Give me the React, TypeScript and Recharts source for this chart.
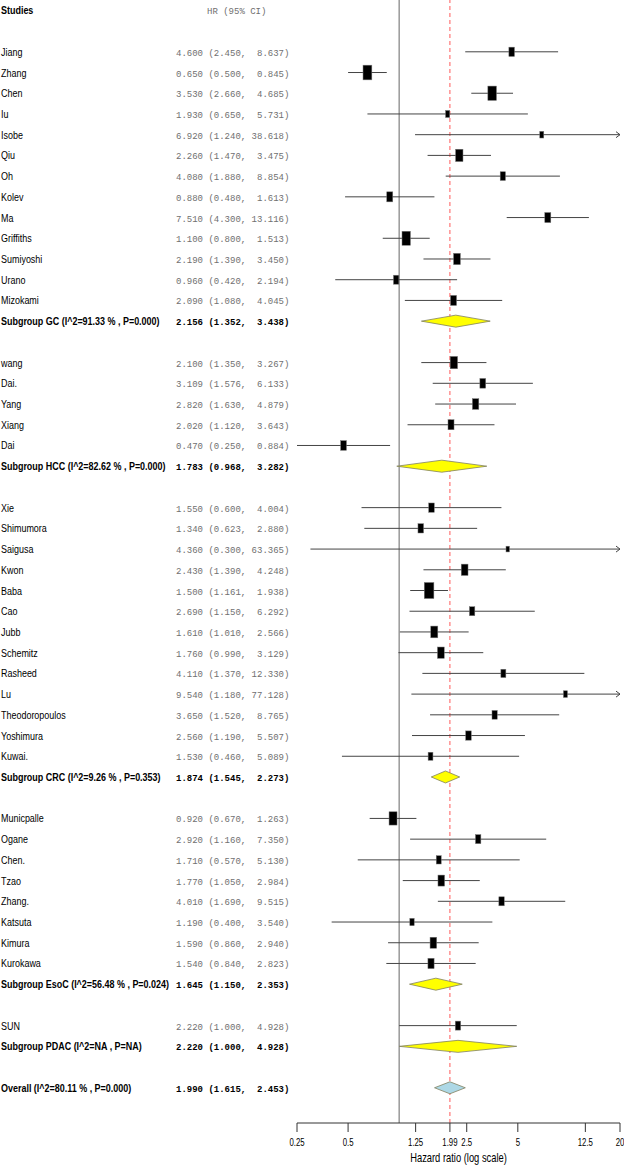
import React from "react";
import {
  ErrorBar,
  ReferenceLine,
  Scatter,
  ScatterChart,
  XAxis,
  YAxis,
} from "recharts";

const studyNames = [
  "Jiang", "Zhang", "Chen", "Iu", "Isobe", "Qiu", "Oh", "Kolev", "Ma", "Griffiths", "Sumiyoshi", "Urano", "Mizokami",
  "wang", "Dai.", "Yang", "Xiang", "Dai",
  "Xie", "Shimumora", "Saigusa", "Kwon", "Baba", "Cao", "Jubb", "Schemitz", "Rasheed", "Lu", "Theodoropoulos", "Yoshimura", "Kuwai.",
  "Municpalle", "Ogane", "Chen.", "Tzao", "Zhang.", "Katsuta", "Kimura", "Kurokawa",
  "SUN",
];
const studyHR = [
  4.6, 0.65, 3.53, 1.93, 6.92, 2.26, 4.08, 0.88, 7.51, 1.1, 2.19, 0.96, 2.09,
  2.1, 3.109, 2.82, 2.02, 0.47,
  1.55, 1.34, 4.36, 2.43, 1.5, 2.69, 1.61, 1.76, 4.11, 9.54, 3.65, 2.56, 1.53,
  0.92, 2.92, 1.71, 1.77, 4.01, 1.19, 1.59, 1.54,
  2.22,
];
const studyLow = [
  2.45, 0.5, 2.66, 0.65, 1.24, 1.47, 1.88, 0.48, 4.3, 0.8, 1.39, 0.42, 1.08,
  1.35, 1.576, 1.63, 1.12, 0.25,
  0.6, 0.623, 0.3, 1.39, 1.161, 1.15, 1.01, 0.99, 1.37, 1.18, 1.52, 1.19, 0.46,
  0.67, 1.16, 0.57, 1.05, 1.69, 0.4, 0.86, 0.84,
  1.0,
];
const studyHigh = [
  8.637, 0.845, 4.685, 5.731, 38.618, 3.475, 8.854, 1.613, 13.116, 1.513, 3.45, 2.194, 4.045,
  3.267, 6.133, 4.879, 3.643, 0.884,
  4.004, 2.88, 63.365, 4.248, 1.938, 6.292, 2.566, 3.129, 12.33, 77.128, 8.765, 5.507, 5.089,
  1.263, 7.35, 5.13, 2.984, 9.515, 3.54, 2.94, 2.823,
  4.928,
];
// relative study weights (box area)
const studyWeight = [
  7.9, 19.8, 18.8, 4.5, 4.1, 13.9, 7.0, 9.2, 9.2, 18.0, 11.7, 7.4, 9.2,
  13.9, 8.6, 10.5, 9.2, 8.6,
  7.9, 7.9, 3.0, 11.7, 23.5, 7.4, 12.6, 11.7, 6.3, 4.1, 7.0, 7.9, 5.9,
  16.2, 7.4, 6.3, 11.1, 7.4, 4.9, 11.1, 9.7,
  7.4,
];

const groupNames = ["GC", "HCC", "CRC", "EsoC", "PDAC"];
const groupSizes = [13, 5, 13, 8, 1];
const groupI2 = ["91.33 %", "82.62 %", "9.26 %", "56.48 %", "NA"];
const groupP = ["0.000", "0.000", "0.353", "0.024", "NA"];
const groupHR = [2.156, 1.783, 1.874, 1.645, 2.22];
const groupLow = [1.352, 0.968, 1.545, 1.15, 1.0];
const groupHigh = [3.438, 3.282, 2.273, 2.353, 4.928];

const overallHR = 1.99;
const overallLow = 1.615;
const overallHigh = 2.453;
const overallI2 = "80.11 %";
const overallP = "0.000";

const xTicks = [0.25, 0.5, 1.25, 1.99, 2.5, 5, 12.5, 20];
const X_MIN = 0.25;
const X_MAX = 20;

const SANS = "'Liberation Sans', Arial, sans-serif";
const MONO = "'Liberation Mono', 'Courier New', monospace";
const SQUEEZE = 0.78;

const fmtCI = (hr: number, lo: number, hi: number) =>
  `${hr.toFixed(3)} (${lo.toFixed(3)}, ${hi.toFixed(3).padStart(6)})`;

type Label = { name: string; stat: string; bold: boolean; header?: boolean };

const labels = new Map<number, Label>();
labels.set(0, { name: "Studies", stat: "HR (95% CI)", bold: true, header: true });

const studyPoints: any[] = [];
const arrowPoints: any[] = [];
const subgroupDiamonds: any[] = [];
const overallDiamond: any[] = [];
const HALF = 0.29;

const diamond = (hr: number, lo: number, hi: number, row: number) => [
  { x: lo, y: row },
  { x: hr, y: row - HALF },
  { x: hi, y: row },
  { x: hr, y: row + HALF },
];

let row = 2;
let k = 0;
groupNames.forEach((g, gi) => {
  for (let j = 0; j < groupSizes[gi]; j++, k++) {
    const hi = Math.min(studyHigh[k], X_MAX);
    studyPoints.push({
      x: studyHR[k],
      y: row,
      weight: studyWeight[k],
      err: [studyHR[k] - studyLow[k], hi - studyHR[k]],
    });
    if (studyHigh[k] > X_MAX) arrowPoints.push({ x: X_MAX, y: row });
    labels.set(row, {
      name: studyNames[k],
      stat: fmtCI(studyHR[k], studyLow[k], studyHigh[k]),
      bold: false,
    });
    row++;
  }
  labels.set(row, {
    name: `Subgroup ${g} (I^2=${groupI2[gi]} , P=${groupP[gi]})`,
    stat: fmtCI(groupHR[gi], groupLow[gi], groupHigh[gi]),
    bold: true,
  });
  subgroupDiamonds.push(...diamond(groupHR[gi], groupLow[gi], groupHigh[gi], row));
  row += 2;
});
labels.set(row, {
  name: `Overall (I^2=${overallI2} , P=${overallP})`,
  stat: fmtCI(overallHR, overallLow, overallHigh),
  bold: true,
});
overallDiamond.push(...diamond(overallHR, overallLow, overallHigh, row));

const labelRows = Array.from(labels.keys());

// condensed sans text (no narrow font installed, so squeeze horizontally)
const Narrow = ({ x, y, size, bold, anchor, children }: any) => (
  <text
    transform={`translate(${x},${y}) scale(${SQUEEZE},1)`}
    fontFamily={SANS}
    fontSize={size}
    fontWeight={bold ? 700 : 400}
    textAnchor={anchor || "start"}
    fill="#000"
  >
    {children}
  </text>
);

const RowTick = (props: any) => {
  const { y, payload } = props;
  const lab = labels.get(Number(payload.value));
  if (!lab) return null;
  const strong = lab.bold && !lab.header;
  return (
    <g>
      <Narrow x={1} y={y + 4} size={11.5} bold={lab.bold}>
        {lab.name}
      </Narrow>
      <text
        x={lab.header ? 207 : 176}
        y={y}
        dy={4}
        fontFamily={MONO}
        fontSize={9}
        fontWeight={strong ? 700 : 400}
        fill={strong ? "#000" : "#707070"}
        style={{ whiteSpace: "pre" }}
      >
        {lab.stat}
      </text>
    </g>
  );
};

const AxisTick = (props: any) => {
  const { x, y, payload } = props;
  return (
    <Narrow x={x} y={y + 9} size={10} anchor="middle">
      {String(payload.value)}
    </Narrow>
  );
};

const AxisTitle = (props: any) => {
  const vb = props.viewBox || {};
  return (
    <Narrow x={vb.x + vb.width / 2} y={vb.y + vb.height - 4} size={12} anchor="middle">
      Hazard ratio (log scale)
    </Narrow>
  );
};

const Box = (props: any) => {
  const { cx, cy, payload } = props;
  const h = 3.3 * Math.sqrt(payload.weight);
  const w = h * 0.6;
  return <rect x={cx - w / 2} y={cy - h / 2} width={w} height={h} fill="#000" stroke="#777" strokeWidth={0.5} />;
};

const Arrow = (props: any) => {
  const { cx, cy } = props;
  return <path d={`M${cx - 4},${cy - 3}L${cx},${cy}L${cx - 4},${cy + 3}`} stroke="#444" fill="none" />;
};

const polygons = (fill: string) => (props: any) => {
  const pts = props.points || [];
  const out = [];
  for (let i = 0; i + 3 < pts.length; i += 4) {
    const p = pts.slice(i, i + 4).map((q: any) => `${q.x},${q.y}`).join(" ");
    out.push(<polygon key={i} points={p} fill={fill} stroke="#808060" strokeWidth={0.8} />);
  }
  return <g>{out}</g>;
};

const Empty = () => <g />;

export default function App() {
  return (
    <div style={{ width: 624, height: 1166, background: "#fff" }}>
      <style>{"body{margin:0}"}</style>
      <ScatterChart width={624} height={1166} margin={{ top: 0, right: 4, bottom: 0, left: 0 }}>
        <XAxis
          dataKey="x"
          type="number"
          scale="log"
          domain={[X_MIN, X_MAX]}
          allowDataOverflow
          ticks={xTicks}
          interval={0}
          tickSize={9}
          tickMargin={5}
          height={43}
          stroke="#333"
          tick={<AxisTick />}
          label={<AxisTitle />}
        />
        <YAxis
          dataKey="y"
          type="number"
          domain={[-0.5, 53.7]}
          reversed
          allowDataOverflow
          width={297}
          ticks={labelRows}
          interval={0}
          axisLine={false}
          tickLine={false}
          tick={<RowTick />}
        />
        <ReferenceLine x={1} stroke="#999" strokeWidth={1.5} />
        <ReferenceLine x={overallHR} stroke="#ff5a5a" strokeDasharray="4 3" />
        <Scatter data={studyPoints} shape={<Box />} isAnimationActive={false}>
          <ErrorBar dataKey="err" direction="x" width={0} stroke="#444" strokeWidth={1} />
        </Scatter>
        <Scatter data={arrowPoints} shape={<Arrow />} isAnimationActive={false} />
        <Scatter
          data={subgroupDiamonds}
          shape={<Empty />}
          line={polygons("#ffff00")}
          lineType="joint"
          isAnimationActive={false}
        />
        <Scatter
          data={overallDiamond}
          shape={<Empty />}
          line={polygons("#add8e6")}
          lineType="joint"
          isAnimationActive={false}
        />
      </ScatterChart>
    </div>
  );
}
